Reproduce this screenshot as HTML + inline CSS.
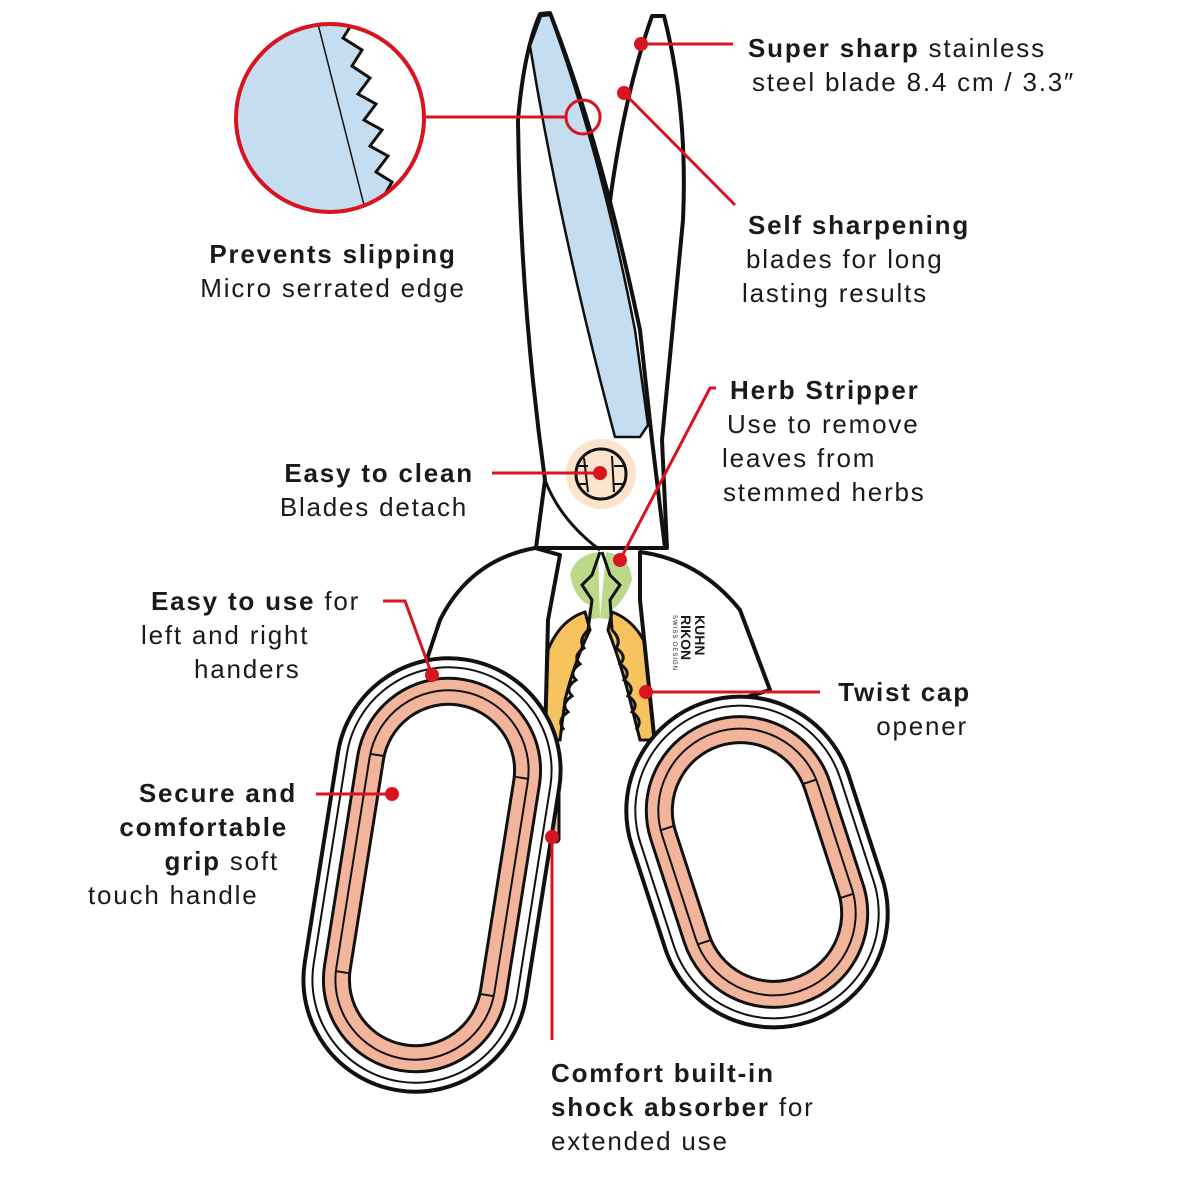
<!DOCTYPE html>
<html><head><meta charset="utf-8"><style>
html,body{margin:0;padding:0;background:#fff}
svg{display:block}
text{font-family:"Liberation Sans",sans-serif;font-size:26px;fill:#1a1a1a;letter-spacing:1.8px}
.b{font-weight:bold}
</style></head><body>
<svg width="1200" height="1200" viewBox="0 0 1200 1200" xmlns="http://www.w3.org/2000/svg">
<defs><clipPath id="mc"><circle cx="330" cy="118" r="94"/></clipPath></defs>

<!-- right blade -->
<path d="M652,16 L664,16 Q688,110 683,220 L662,440 L667,548 L600,548 L600,300 Q612,130 652,16 Z" fill="#fff" stroke="#111" stroke-width="4" stroke-linejoin="round"/>
<!-- left blade -->
<path d="M540,14 L550,13 Q600,140 640,330 L652,440 L665,548 L536,548 L545,480 Q520,300 518,120 Q524,50 540,14 Z" fill="#fff" stroke="#111" stroke-width="4" stroke-linejoin="round"/>
<path d="M541,16 L550,15 Q600,150 635,330 L648,425 L640,437 L615,437 Q560,230 530,46 Z" fill="#c5ddf0" stroke="#111" stroke-width="2.5" stroke-linejoin="round"/>
<path d="M545,480 Q560,520 600,550" fill="none" stroke="#111" stroke-width="3"/>

<!-- pivot -->
<circle cx="601" cy="474" r="35" fill="#fbe3cc"/>
<circle cx="601" cy="474" r="25" fill="#fbe3cc" stroke="#111" stroke-width="3"/>
<path d="M584,458 L588,492 M612,456 L614,492 M578,466 L588,466 M578,484 L588,484 M614,466 L624,466 M614,484 L624,484" stroke="#111" stroke-width="2"/>

<!-- herb stripper / twist cap -->
<path d="M598,552 Q575,555 570,575 Q575,600 590,605 L585,620 L600,618 Z" fill="#bcd98a"/>
<path d="M606,552 Q630,555 632,580 Q625,600 612,610 L612,620 L600,618 Z" fill="#bcd98a"/>
<path d="M585,612 Q560,620 548,650 L545,740 L560,740 L565,700 Q575,660 590,630 Z" fill="#f7c35f" stroke="#111" stroke-width="3"/>
<path d="M612,612 Q640,622 652,660 L655,740 L640,740 L630,700 Q620,660 608,630 Z" fill="#f7c35f" stroke="#111" stroke-width="3"/>
<path d="M588,630 Q578,640 584,648 Q572,656 580,664 Q568,672 576,680 Q564,688 572,696 Q560,704 568,712 Q556,720 564,730" fill="none" stroke="#111" stroke-width="3"/>
<path d="M612,630 Q622,640 616,648 Q628,656 620,664 Q632,672 624,680 Q636,688 628,696 Q640,704 632,712 Q644,720 636,730" fill="none" stroke="#111" stroke-width="3"/>
<path d="M600,552 L592,575 L582,585 L592,600 L588,630 M602,552 L610,575 L620,585 L610,600 L612,630" fill="none" stroke="#111" stroke-width="3"/>

<!-- shank / connector left -->
<path d="M535,548 Q470,560 440,620 L425,665 L470,670 Q530,690 545,740 L548,620 L560,555 Z" fill="#fff" stroke="#111" stroke-width="4" stroke-linejoin="round"/>
<!-- connector right -->
<path d="M640,552 Q700,560 740,610 L770,690 L720,705 Q670,720 655,745 L640,600 Z" fill="#fff" stroke="#111" stroke-width="4" stroke-linejoin="round"/>
<text x="0" y="0" transform="translate(695,615) rotate(90)" style="font-size:14px;font-weight:bold;letter-spacing:0">KUHN</text>
<text x="0" y="0" transform="translate(681,615) rotate(90)" style="font-size:14px;font-weight:bold;letter-spacing:0">RIKON</text>
<text x="0" y="0" transform="translate(673,615) rotate(90)" style="font-size:6px;letter-spacing:1px">SWISS DESIGN</text>

<!-- shock absorber -->
<rect x="535" y="782" width="24" height="60" rx="3" fill="#f2b59c" stroke="#111" stroke-width="3"/>
<rect x="630" y="783" width="12" height="52" fill="#fff" stroke="#111" stroke-width="3"/>

<!-- left handle -->
<g transform="translate(432,875) rotate(9)">
<rect x="-112" y="-218" width="224" height="436" rx="112" fill="#fff" stroke="#111" stroke-width="4"/>
<rect x="-103" y="-209" width="206" height="418" rx="103" fill="none" stroke="#111" stroke-width="2"/>
<rect x="-92" y="-198" width="184" height="396" rx="92" fill="#f2b59c" stroke="#111" stroke-width="3"/>
<rect x="-80" y="-186" width="160" height="372" rx="80" fill="none" stroke="#111" stroke-width="2"/>
<rect x="-66" y="-172" width="132" height="344" rx="66" fill="#fff" stroke="#111" stroke-width="3"/>
<path d="M-80,-110 L-66,-110 M66,-110 L80,-110 M-80,110 L-66,110 M66,110 L80,110" stroke="#111" stroke-width="2"/>
</g>
<!-- right handle -->
<g transform="translate(757,862) rotate(-18)">
<rect x="-114" y="-168" width="228" height="336" rx="114" fill="#fff" stroke="#111" stroke-width="4"/>
<rect x="-105" y="-159" width="210" height="318" rx="105" fill="none" stroke="#111" stroke-width="2"/>
<rect x="-94" y="-148" width="188" height="296" rx="94" fill="#f2b59c" stroke="#111" stroke-width="3"/>
<rect x="-82" y="-136" width="164" height="272" rx="82" fill="none" stroke="#111" stroke-width="2"/>
<rect x="-68" y="-122" width="136" height="244" rx="68" fill="#fff" stroke="#111" stroke-width="3"/>
<path d="M-82,-60 L-68,-60 M68,-60 L82,-60 M-82,60 L-68,60 M68,60 L82,60" stroke="#111" stroke-width="2"/>
</g>

<!-- magnifier -->
<g clip-path="url(#mc)">
<rect x="230" y="20" width="200" height="200" fill="#c5ddf0"/>
<path d="M352,24 L343,38 L362,50 L352,66 L370,78 L358,94 L376,104 L364,120 L382,130 L370,146 L388,156 L376,172 L392,182 L384,196 L500,196 L500,20 Z" fill="#fff" stroke="#111" stroke-width="3" stroke-linejoin="miter"/>
<path d="M318,24 L364,205" stroke="#111" stroke-width="1.5"/>
</g>
<circle cx="330" cy="118" r="94" fill="none" stroke="#d7141f" stroke-width="4"/>
<line x1="424" y1="117" x2="565" y2="117" stroke="#d7141f" stroke-width="3"/>
<circle cx="583" cy="117" r="17" fill="none" stroke="#d7141f" stroke-width="3"/>

<!-- callouts -->
<g stroke="#d7141f" stroke-width="3" fill="none">
<line x1="641" y1="44" x2="733" y2="44"/>
<line x1="624" y1="93" x2="735" y2="205"/>
<polyline points="620,560 710,388 716,388"/>
<line x1="492" y1="473" x2="600" y2="473"/>
<polyline points="383,601 405,601 432,675"/>
<line x1="646" y1="692" x2="820" y2="692"/>
<line x1="316" y1="794" x2="392" y2="794"/>
<line x1="552" y1="837" x2="552" y2="1040"/>
</g>
<g fill="#d7141f">
<circle cx="641" cy="44" r="7"/><circle cx="624" cy="93" r="7"/><circle cx="620" cy="560" r="7"/>
<circle cx="600" cy="473" r="7"/><circle cx="432" cy="675" r="7"/><circle cx="646" cy="692" r="7"/>
<circle cx="392" cy="794" r="7"/><circle cx="552" cy="837" r="7"/>
</g>

<!-- text -->
<text x="748" y="57"><tspan class="b">Super sharp</tspan> stainless</text>
<text x="752" y="91">steel blade 8.4 cm / 3.3″</text>
<text x="748" y="234" class="b">Self sharpening</text>
<text x="746" y="268">blades for long</text>
<text x="742" y="302">lasting results</text>
<text x="333" y="263" class="b" text-anchor="middle">Prevents slipping</text>
<text x="333" y="297" text-anchor="middle">Micro serrated edge</text>
<text x="730" y="399" class="b">Herb Stripper</text>
<text x="727" y="433">Use to remove</text>
<text x="722" y="467">leaves from</text>
<text x="723" y="501">stemmed herbs</text>
<text x="474" y="482" class="b" text-anchor="end">Easy to clean</text>
<text x="468" y="516" text-anchor="end">Blades detach</text>
<text x="151" y="610"><tspan class="b">Easy to use</tspan> for</text>
<text x="141" y="644">left and right</text>
<text x="194" y="678">handers</text>
<text x="971" y="701" class="b" text-anchor="end">Twist cap</text>
<text x="968" y="735" text-anchor="end">opener</text>
<text x="297" y="802" class="b" text-anchor="end">Secure and</text>
<text x="288" y="836" class="b" text-anchor="end">comfortable</text>
<text x="279" y="870" text-anchor="end"><tspan class="b">grip</tspan> soft</text>
<text x="88" y="904">touch handle</text>
<text x="551" y="1082" class="b">Comfort built-in</text>
<text x="551" y="1116"><tspan class="b">shock absorber</tspan> for</text>
<text x="551" y="1150">extended use</text>
</svg>
</body></html>
